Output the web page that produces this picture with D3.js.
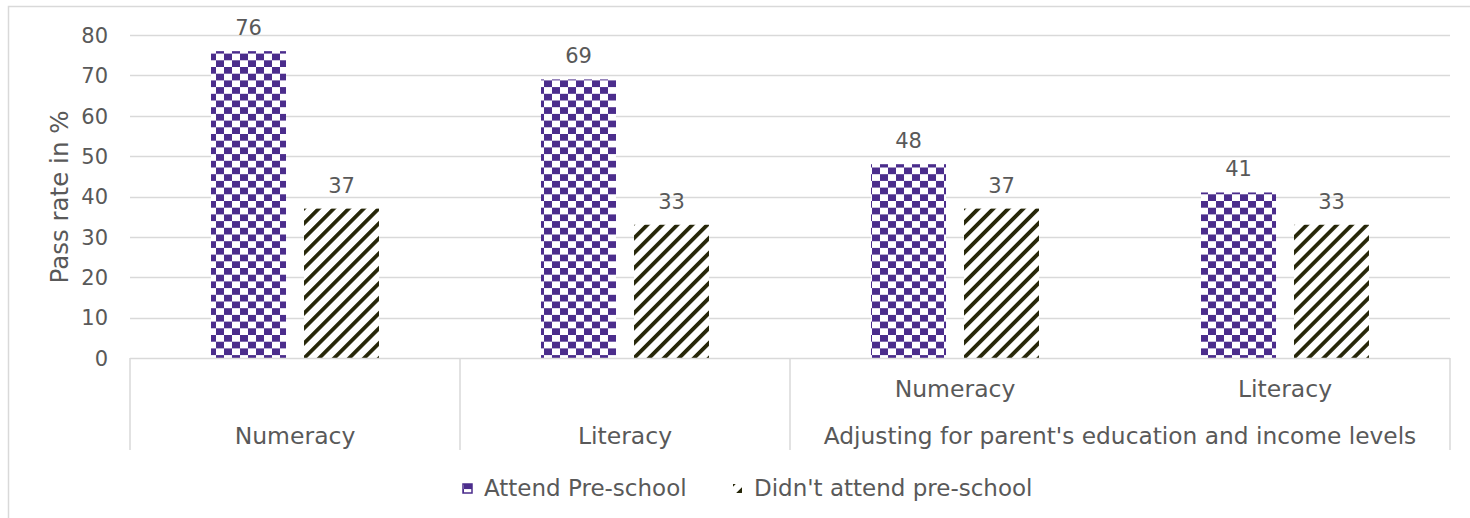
<!DOCTYPE html>
<html><head><meta charset="utf-8">
<script src="https://cdn.jsdelivr.net/npm/d3@7"></script>
<style>body{margin:0;background:#fff}svg{display:block}text{font-family:"DejaVu Sans",sans-serif;fill:#595959}</style>
</head><body><svg id="c" width="1470" height="518"></svg>
<script>
const categories = ["Numeracy","Literacy","Numeracy","Literacy"];
const groupLabels = [null,null,"Adjusting for parent's education and income levels"];
const seriesNames = ["Attend Pre-school","Didn't attend pre-school"];
const attendValues = [76,69,48,41];
const notAttendValues = [37,33,37,33];
const yTicks = [0,10,20,30,40,50,60,70,80];

(function(){
const svg = d3.select("#c");
const defs = svg.append("defs");
const purple = "#4b2d8c", dark = "#262608";
const pc = defs.append("pattern").attr("id","checker").attr("patternUnits","userSpaceOnUse")
  .attr("width",16).attr("height",13.4);
pc.append("rect").attr("width",16).attr("height",13.4).attr("fill","#fff");
pc.append("rect").attr("x",0).attr("y",0).attr("width",8).attr("height",6.7).attr("fill",purple);
pc.append("rect").attr("x",8).attr("y",6.7).attr("width",8).attr("height",6.7).attr("fill",purple);
const ps = defs.append("pattern").attr("id","stripes").attr("patternUnits","userSpaceOnUse")
  .attr("width",10.6).attr("height",10.6).attr("patternTransform","rotate(45)");
ps.append("rect").attr("width",10.6).attr("height",10.6).attr("fill","#fff");
ps.append("rect").attr("width",3.8).attr("height",10.6).attr("fill",dark);

const fills = ["url(#checker)","url(#stripes)"];
const pLeft=130, pRight=1450, pTop=35, pBottom=358;

svg.append("rect").attr("x",8.5).attr("y",6.5).attr("width",1470).attr("height",520)
  .attr("fill","none").attr("stroke","#d9d9d9").attr("stroke-width",1.5);

const y = d3.scaleLinear().domain([0,80]).range([pBottom,pTop]);
const x = d3.scaleBand().domain(d3.range(categories.length)).range([pLeft,pRight]).padding(0);
const xs = d3.scaleBand().domain(seriesNames).range([0,x.bandwidth()]).paddingInner(0.1935).paddingOuter(0.871);

svg.append("g").selectAll("line").data(yTicks.filter(t=>t>0)).join("line")
  .attr("x1",pLeft).attr("x2",pRight).attr("y1",d=>Math.round(y(d))+0.5).attr("y2",d=>Math.round(y(d))+0.5)
  .attr("stroke","#d9d9d9").attr("stroke-width",1.5);

const ya = svg.append("g").attr("transform",`translate(108,0)`)
  .call(d3.axisLeft(y).tickValues(yTicks).tickSize(0).tickPadding(0));
ya.select(".domain").remove();
ya.selectAll("text").attr("font-size",21).attr("font-family","DejaVu Sans").attr("fill","#595959").attr("dy","0.35em");

svg.append("text").attr("transform","translate(68,197) rotate(-90)").attr("text-anchor","middle")
  .attr("font-size",24.5).text("Pass rate in %");

const series = [attendValues, notAttendValues];
series.forEach((vals,si)=>{
  const g = svg.append("g");
  g.selectAll("rect").data(vals).join("rect")
    .attr("x",(d,i)=>x(i)+xs(seriesNames[si]))
    .attr("width",xs.bandwidth())
    .attr("y",d=>y(d)).attr("height",d=>y(0)-y(d))
    .attr("fill",fills[si]);
  g.selectAll("text").data(vals).join("text")
    .attr("x",(d,i)=>x(i)+xs(seriesNames[si])+xs.bandwidth()/2)
    .attr("y",d=>y(d)-16).attr("text-anchor","middle").attr("font-size",21).text(d=>d);
});

const axisG = svg.append("g").attr("stroke","#d9d9d9").attr("stroke-width",1.5);
axisG.append("line").attr("x1",pLeft).attr("x2",pRight).attr("y1",pBottom+0.5).attr("y2",pBottom+0.5);
[0,1,2,4].forEach(k=>{
  const xx = k<categories.length ? x(k) : pRight;
  axisG.append("line").attr("x1",xx).attr("x2",xx).attr("y1",pBottom).attr("y2",450);
});
categories.forEach((c,i)=>{
  const sub = i>=2;
  svg.append("text").attr("x",x(i)+x.bandwidth()/2).attr("y",sub?397:444)
    .attr("text-anchor","middle").attr("font-size",23.5).text(c);
});
svg.append("text").attr("x",(x(2)+pRight)/2).attr("y",444).attr("text-anchor","middle")
  .attr("font-size",23.3).text(groupLabels[2]);

const legend = [{x:463,name:seriesNames[0],f:fills[0]},{x:733,name:seriesNames[1],f:fills[1]}];
legend.forEach(l=>{
  svg.append("rect").attr("x",l.x).attr("y",484).attr("width",9).attr("height",9).attr("fill",l.f)
    .attr("stroke",l.f===fills[0]?purple:"none").attr("stroke-width",1.5);
  svg.append("text").attr("x",l.x+21).attr("y",496).attr("font-size",23).text(l.name);
});
})();
</script></body></html>
